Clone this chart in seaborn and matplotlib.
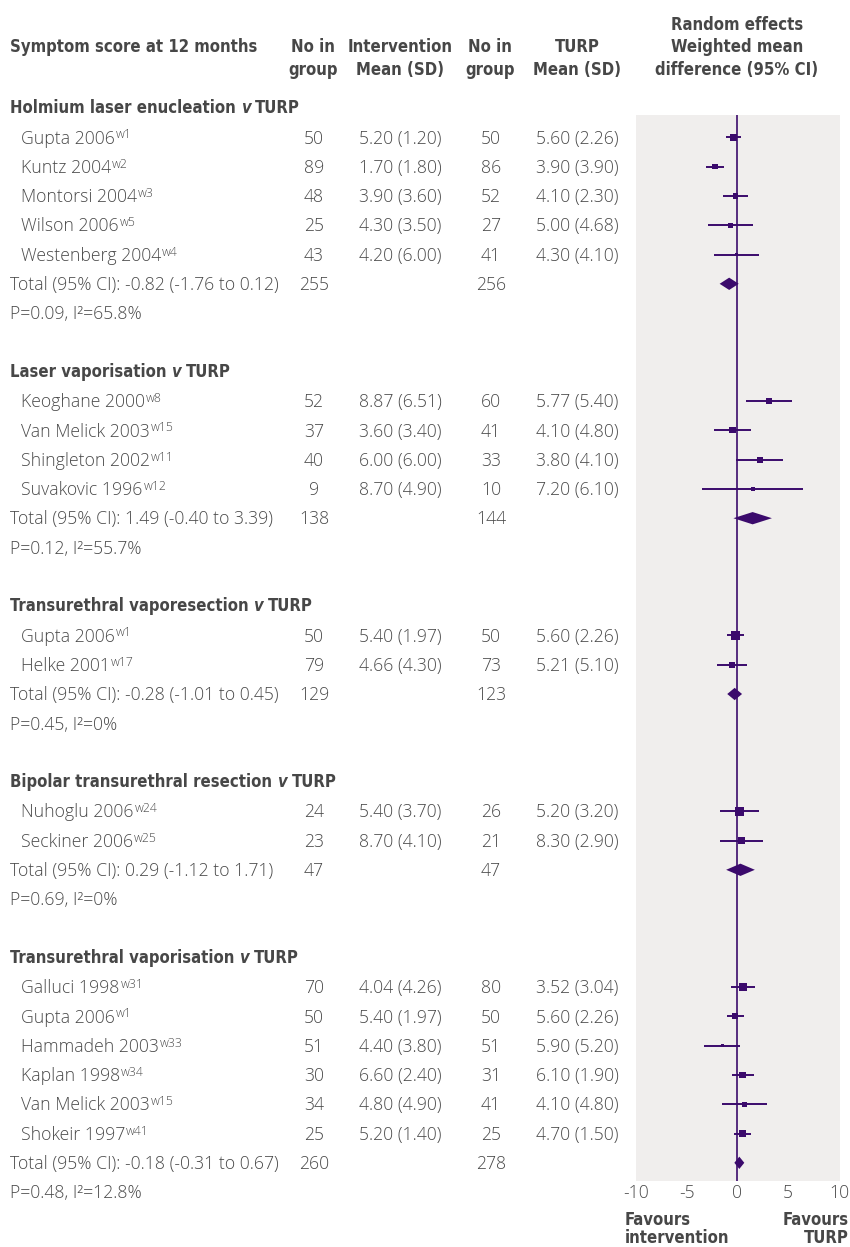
import numpy as np
import pandas as pd
import matplotlib
matplotlib.use("Agg")
import matplotlib.pyplot as plt
import seaborn as sns
from matplotlib.transforms import blended_transform_factory, ScaledTranslation

# ---------------- data ----------------
group_names = ["Holmium laser enucleation", "Laser vaporisation",
               "Transurethral vaporesection", "Bipolar transurethral resection",
               "Transurethral vaporisation"]

study_names = [
    ["Gupta 2006", "Kuntz 2004", "Montorsi 2004", "Wilson 2006", "Westenberg 2004"],
    ["Keoghane 2000", "Van Melick 2003", "Shingleton 2002", "Suvakovic 1996"],
    ["Gupta 2006", "Helke 2001"],
    ["Nuhoglu 2006", "Seckiner 2006"],
    ["Galluci 1998", "Gupta 2006", "Hammadeh 2003", "Kaplan 1998", "Van Melick 2003", "Shokeir 1997"],
]
study_refs = [
    ["w1", "w2", "w3", "w5", "w4"],
    ["w8", "w15", "w11", "w12"],
    ["w1", "w17"],
    ["w24", "w25"],
    ["w31", "w1", "w33", "w34", "w15", "w41"],
]
n_int = [[50, 89, 48, 25, 43], [52, 37, 40, 9], [50, 79], [24, 23], [70, 50, 51, 30, 34, 25]]
mean_int = [[5.20, 1.70, 3.90, 4.30, 4.20], [8.87, 3.60, 6.00, 8.70], [5.40, 4.66], [5.40, 8.70],
            [4.04, 5.40, 4.40, 6.60, 4.80, 5.20]]
sd_int = [[1.20, 1.80, 3.60, 3.50, 6.00], [6.51, 3.40, 6.00, 4.90], [1.97, 4.30], [3.70, 4.10],
          [4.26, 1.97, 3.80, 2.40, 4.90, 1.40]]
n_turp = [[50, 86, 52, 27, 41], [60, 41, 33, 10], [50, 73], [26, 21], [80, 50, 51, 31, 41, 25]]
mean_turp = [[5.60, 3.90, 4.10, 5.00, 4.30], [5.77, 4.10, 3.80, 7.20], [5.60, 5.21], [5.20, 8.30],
             [3.52, 5.60, 5.90, 6.10, 4.10, 4.70]]
sd_turp = [[2.26, 3.90, 2.30, 4.68, 4.10], [5.40, 4.80, 4.10, 6.10], [2.26, 5.10], [3.20, 2.90],
           [3.04, 2.26, 5.20, 1.90, 4.80, 1.50]]

# plotted estimates (mean difference and 95% CI)
md = [[-0.40, -2.20, -0.20, -0.70, -0.10], [3.10, -0.50, 2.20, 1.50], [-0.20, -0.55], [0.20, 0.40],
      [0.52, -0.20, -1.50, 0.50, 0.70, 0.50]]
ci_lo = [[-1.11, -3.10, -1.39, -2.94, -2.29], [0.86, -2.33, -0.13, -3.45], [-1.03, -2.06], [-1.72, -1.68],
         [-0.68, -1.03, -3.27, -0.59, -1.51, -0.30]]
ci_hi = [[0.31, -1.30, 0.99, 1.54, 2.09], [5.34, 1.33, 4.53, 6.45], [0.63, 0.96], [2.12, 2.48],
         [1.72, 0.63, 0.27, 1.59, 2.91, 1.30]]
# relative study weight shown as box size (box side, pixels)
box_side = [[7.3, 5.6, 5.6, 5.2, 3.9], [6.2, 6.2, 6.2, 4.2], [9.0, 6.0], [9.0, 7.7],
            [7.7, 6.0, 3.2, 6.2, 5.2, 6.9]]

total_label = ["-0.82 (-1.76 to 0.12)", "1.49 (-0.40 to 3.39)", "-0.28 (-1.01 to 0.45)",
               "0.29 (-1.12 to 1.71)", "-0.18 (-0.31 to 0.67)"]
total_est = [-0.82, 1.49, -0.28, 0.29, 0.18]
total_lo = [-1.76, -0.40, -1.01, -1.12, -0.31]
total_hi = [0.12, 3.39, 0.45, 1.71, 0.67]
total_n_int = [255, 138, 129, 47, 260]
total_n_turp = [256, 144, 123, 47, 278]
het_p = ["0.09", "0.12", "0.45", "0.69", "0.48"]
het_i2 = ["65.8%", "55.7%", "0%", "0%", "12.8%"]

x_ticks = [-10, -5, 0, 5, 10]

# ---------------- style ----------------
sns.set_theme(style="white")
plt.rcParams['font.family'] = ['Open Sans', 'DejaVu Sans']

PURPLE = "#3b0a6c"
TEXT = "#4a4a4a"
HEAD = "#474747"
PANEL = "#f0eeed"
BODY_FS = 12.7
SUP_FS = 8.8
HEAD_FS = 12
BODY_W = "light"

W, H = 850, 1247
ROW0, ROWH = 108.0, 29.3


def prow(py):
    return (py - ROW0) / ROWH


fig = plt.figure(figsize=(W / 100, H / 100), dpi=100)
ax = fig.add_axes([636 / W, 1 - 1181 / H, (840 - 636) / W, (1181 - 115) / H])

# ---------------- build rows ----------------
recs, heads, totrows, prows = [], [], [], []
r = 0
for g in range(len(group_names)):
    heads.append(r)
    r += 1
    for i in range(len(study_names[g])):
        recs.append(dict(row=r, md=md[g][i], lo=ci_lo[g][i], hi=ci_hi[g][i],
                         area=(box_side[g][i] * 0.72) ** 2, g=g, i=i))
        r += 1
    totrows.append(r)
    r += 1
    prows.append(r)
    r += 2
df = pd.DataFrame(recs)

# ---------------- forest panel ----------------
ax.set_facecolor(PANEL)
ax.axvline(0, color=PURPLE, lw=1.2, zorder=1)
ax.hlines(df["row"], df["lo"], df["hi"], color=PURPLE, lw=1.4, zorder=2)
amin, amax = df["area"].min(), df["area"].max()
sns.scatterplot(data=df, x="md", y="row", size="area", sizes=(amin, amax),
                size_norm=(amin, amax), marker="s", color=PURPLE, edgecolor="none",
                linewidth=0, legend=False, ax=ax, zorder=3)
hh = 0.21
for g in range(len(group_names)):
    rr = totrows[g]
    ax.fill([total_lo[g], total_est[g], total_hi[g], total_est[g]],
            [rr, rr - hh, rr, rr + hh], color=PURPLE, lw=0, zorder=3)

ax.set_xlim(-10, 10.1)
ax.set_ylim(prow(1181), prow(115))
ax.set_xticks(x_ticks)
ax.set_xticklabels([str(t) for t in x_ticks], fontweight=BODY_W)
ax.set_yticks([])
ax.set_xlabel("")
ax.set_ylabel("")
ax.tick_params(axis="x", direction="in", length=4, width=1.5, color="white",
               labelcolor=TEXT, labelsize=BODY_FS, pad=2)
for s in ax.spines.values():
    s.set_visible(False)

# ---------------- table text ----------------
tr = blended_transform_factory(fig.transFigure, ax.transData)
renderer = fig.canvas.get_renderer()
CAP_PT = 0.714 * BODY_FS


def shifted(dx_px=0.0, dy_pt=0.0):
    return tr + ScaledTranslation(dx_px / 100.0, dy_pt / 72.0, fig.dpi_scale_trans)


def txt(px, row, s, ha="left", fs=BODY_FS, dx_px=0.0, dy_pt=0.0):
    return ax.text(px / W, row, s, transform=shifted(dx_px, -CAP_PT / 2 + dy_pt),
                   va="baseline", ha=ha, clip_on=False, color=TEXT, fontsize=fs,
                   fontweight=BODY_W)


def head(px, py, s, ha="left"):
    return ax.text(px / W, prow(py), s, transform=tr, va="center", ha=ha, clip_on=False,
                   color=HEAD, fontsize=HEAD_FS, fontweight="bold",
                   family="DejaVu Sans", fontstretch="condensed")


# column headers
head(10, 47, "Symptom score at 12 months")
for cx, l1, l2 in [(313, "No in", "group"), (400, "Intervention", "Mean (SD)"),
                   (490, "No in", "group"), (577, "TURP", "Mean (SD)")]:
    head(cx, 47, l1, ha="center")
    head(cx, 70, l2, ha="center")
head(737, 25, "Random effects", ha="center")
head(737, 47, "Weighted mean", ha="center")
head(737, 70, "difference (95% CI)", ha="center")

for g in range(len(group_names)):
    t = head(10, ROW0 + ROWH * heads[g], group_names[g])
    t2 = ax.annotate("v", xy=(1, 0), xycoords=t, xytext=(3.5, 0), textcoords="offset points",
                     va="bottom", ha="left", color=HEAD, fontsize=HEAD_FS, fontweight="bold",
                     fontstyle="italic", family="DejaVu Sans", fontstretch="condensed")
    ax.annotate("TURP", xy=(1, 0), xycoords=t2, xytext=(3.5, 0), textcoords="offset points",
                va="bottom", ha="left", color=HEAD, fontsize=HEAD_FS, fontweight="bold",
                family="DejaVu Sans", fontstretch="condensed")
    for i in range(len(study_names[g])):
        rr = df[(df.g == g) & (df.i == i)]["row"].iloc[0]
        t = txt(21, rr, study_names[g][i])
        wpx = t.get_window_extent(renderer).width
        txt(21, rr, study_refs[g][i], fs=SUP_FS, dx_px=wpx + 1, dy_pt=3.8)
        txt(314, rr, str(n_int[g][i]), ha="center")
        txt(400.5, rr, f"{mean_int[g][i]:.2f} ({sd_int[g][i]:.2f})", ha="center")
        txt(491, rr, str(n_turp[g][i]), ha="center")
        txt(577.5, rr, f"{mean_turp[g][i]:.2f} ({sd_turp[g][i]:.2f})", ha="center")
    rr = totrows[g]
    txt(10, rr, f"Total (95% CI): {total_label[g]}")
    txt(314, rr, str(total_n_int[g]), ha="center")
    txt(491, rr, str(total_n_turp[g]), ha="center")
    txt(10, prows[g], f"P={het_p[g]}, I²={het_i2[g]}")

# favours labels
for py, s, px, ha in [(1220, "Favours", 625, "left"), (1238, "intervention", 625, "left"),
                      (1220, "Favours", 849, "right"), (1238, "TURP", 849, "right")]:
    head(px, py, s, ha=ha)

fig.savefig("out.png", dpi=100, facecolor="white")
